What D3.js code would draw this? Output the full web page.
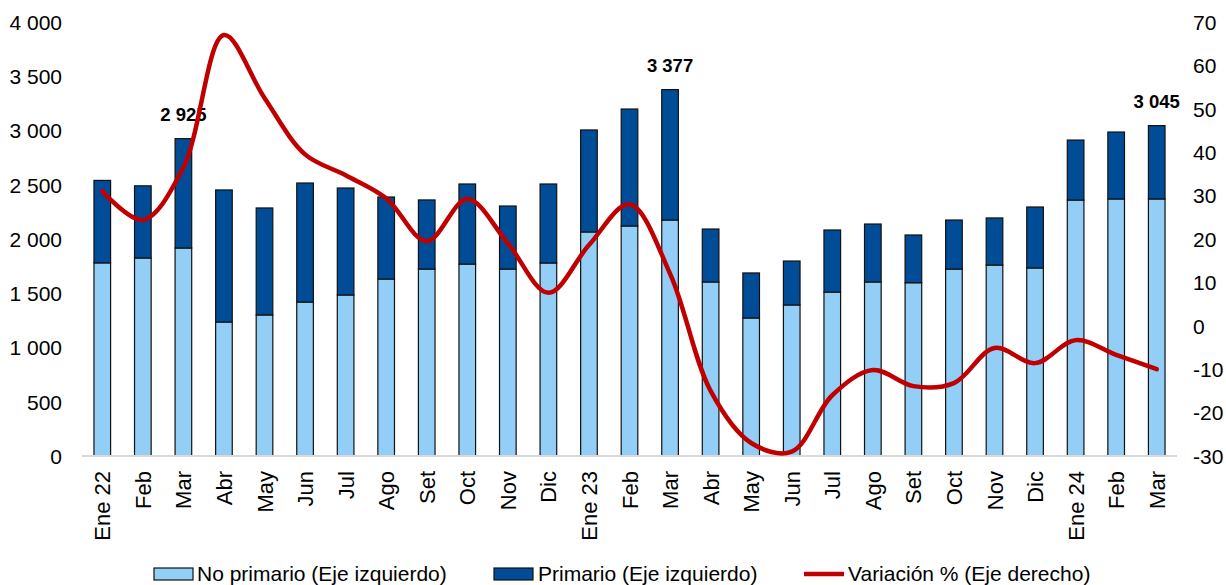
<!DOCTYPE html>
<html>
<head>
<meta charset="utf-8">
<script src="https://cdn.jsdelivr.net/npm/d3@7"></script>
<style>
  body { margin: 0; background: #fff; }
  text { font-family: Arial, "Liberation Sans", sans-serif; fill: #000; }
</style>
</head>
<body>
<div id="chart"></div>
<script>
var months = ["Ene 22", "Feb", "Mar", "Abr", "May", "Jun", "Jul", "Ago", "Set", "Oct", "Nov", "Dic",
              "Ene 23", "Feb", "Mar", "Abr", "May", "Jun", "Jul", "Ago", "Set", "Oct", "Nov", "Dic",
              "Ene 24", "Feb", "Mar"];
var noPrimario = [1780, 1825, 1917, 1235, 1300, 1419, 1484, 1631, 1723, 1769, 1723, 1779,
                  2065, 2120, 2175, 1604, 1272, 1392, 1511, 1604, 1597, 1723, 1760, 1733,
                  2359, 2369, 2369];
var total = [2540, 2490, 2925, 2452, 2286, 2516, 2470, 2387, 2360, 2507, 2304, 2507,
             3005, 3198, 3377, 2092, 1687, 1797, 2083, 2138, 2037, 2175, 2194, 2295,
             2912, 2986, 3045];
var variacion = [31, 24.4, 36.5, 67, 52.5, 39.5, 34.7, 29.4, 19.5, 29.2, 19, 7.6,
                 18.6, 28, 12, -15, -27, -29, -16, -10.2, -13.9, -13.2, -5.1, -8.6,
                 -3.3, -6.7, -10];
var labelIdx = [2, 14, 26];
var leftTicks = d3.range(0, 4001, 500);
var rightTicks = d3.range(-30, 71, 10);

var W = 1226, H = 585;
var x0 = 82, x1 = 1177, yTop = 22, yBot = 456;

var svg = d3.select("#chart").append("svg")
    .attr("width", W)
    .attr("height", H);

var x = d3.scaleBand()
    .domain(d3.range(months.length))
    .range([x0, x1])
    .paddingInner(0.59)
    .paddingOuter(0.295);

var yL = d3.scaleLinear().domain([0, 4000]).range([yBot, yTop]);
var yR = d3.scaleLinear().domain([-30, 70]).range([yBot, yTop]);

var fmt = function(v) { return d3.format(",")(v).replace(/,/g, " "); };

// left axis labels
svg.append("g")
    .attr("transform", "translate(" + (x0 - 20) + ",0)")
    .call(d3.axisLeft(yL).tickValues(leftTicks).tickSize(0).tickPadding(0).tickFormat(fmt))
    .call(function(g) { g.select(".domain").remove(); })
    .selectAll("text")
        .style("font-size", "21px")
        .attr("dy", "0.35em");

// right axis labels (plain hyphen as minus, like the original)
svg.append("g")
    .attr("transform", "translate(" + (x1 + 16) + ",0)")
    .call(d3.axisRight(yR).tickValues(rightTicks).tickSize(0).tickPadding(0)
        .tickFormat(function(d) { return String(d); }))
    .call(function(g) { g.select(".domain").remove(); })
    .selectAll("text")
        .style("font-size", "21px")
        .attr("dy", "0.35em");

// bars
var bars = svg.append("g");
bars.selectAll(".np")
    .data(noPrimario)
    .enter().append("rect")
        .attr("class", "np")
        .attr("x", function(d, i) { return x(i); })
        .attr("y", function(d) { return yL(d); })
        .attr("width", x.bandwidth())
        .attr("height", function(d) { return yBot - yL(d); })
        .style("fill", "#93CEF7")
        .style("stroke", "#111")
        .style("stroke-width", 1.2);

bars.selectAll(".pr")
    .data(total)
    .enter().append("rect")
        .attr("class", "pr")
        .attr("x", function(d, i) { return x(i); })
        .attr("y", function(d) { return yL(d); })
        .attr("width", x.bandwidth())
        .attr("height", function(d, i) { return yL(noPrimario[i]) - yL(d); })
        .style("fill", "#004C97")
        .style("stroke", "#111")
        .style("stroke-width", 1.2);

// baseline
svg.append("line")
    .attr("x1", x0).attr("x2", x1)
    .attr("y1", yBot).attr("y2", yBot)
    .style("stroke", "#D9D9D9")
    .style("stroke-width", 2);

// data labels
svg.selectAll(".dlab")
    .data(labelIdx)
    .enter().append("text")
        .attr("x", function(i) { return x(i) + x.bandwidth() / 2; })
        .attr("y", function(i) { return yL(total[i]) - 18; })
        .style("text-anchor", "middle")
        .style("font-size", "18.5px")
        .style("font-weight", "bold")
        .text(function(i) { return fmt(total[i]); });

// red line
var line = d3.line()
    .x(function(d, i) { return x(i) + x.bandwidth() / 2; })
    .y(function(d) { return yR(d); })
    .curve(d3.curveCatmullRom.alpha(0.5));

svg.append("path")
    .datum(variacion)
    .attr("d", line)
    .style("fill", "none")
    .style("stroke", "#C00000")
    .style("stroke-width", 4.5)
    .style("stroke-linecap", "round");

// month labels
svg.selectAll(".mlab")
    .data(months)
    .enter().append("text")
        .attr("transform", function(d, i) {
            return "translate(" + (x(i) + x.bandwidth() / 2 + 8) + ",471) rotate(-90)";
        })
        .style("text-anchor", "end")
        .style("font-size", "22px")
        .text(function(d) { return d; });

// legend
var legend = svg.append("g");
legend.append("rect")
    .attr("x", 154).attr("y", 568).attr("width", 39).attr("height", 12)
    .style("fill", "#93CEF7").style("stroke", "#111").style("stroke-width", 1.2);
legend.append("text").attr("x", 197).attr("y", 581).style("font-size", "21px")
    .text("No primario (Eje izquierdo)");
legend.append("rect")
    .attr("x", 494).attr("y", 568).attr("width", 39).attr("height", 12)
    .style("fill", "#004C97").style("stroke", "#111").style("stroke-width", 1.2);
legend.append("text").attr("x", 538).attr("y", 581).style("font-size", "21px")
    .text("Primario (Eje izquierdo)");
legend.append("line")
    .attr("x1", 804).attr("x2", 844).attr("y1", 574).attr("y2", 574)
    .style("stroke", "#C00000").style("stroke-width", 4.5);
legend.append("text").attr("x", 848).attr("y", 581).style("font-size", "21px")
    .text("Variación % (Eje derecho)");
</script>
</body>
</html>
